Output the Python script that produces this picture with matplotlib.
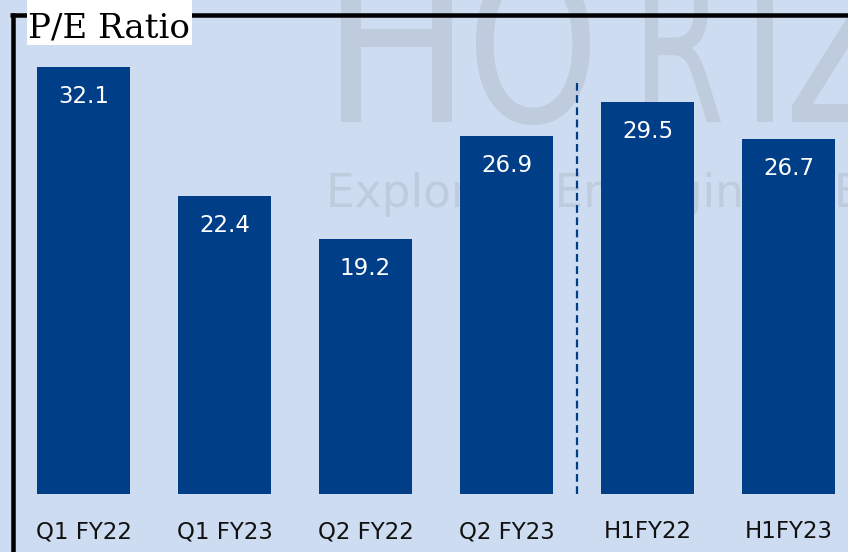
import numpy as np
import matplotlib
matplotlib.use("Agg")
import matplotlib.pyplot as plt
from matplotlib.lines import Line2D
from matplotlib.patches import Rectangle, PathPatch
from matplotlib.textpath import TextPath
from matplotlib.font_manager import FontProperties
from matplotlib.transforms import Affine2D, IdentityTransform

# data
categories = ["Q1 FY22", "Q1 FY23", "Q2 FY22", "Q2 FY23", "H1FY22", "H1FY23"]
pe_ratio = [32.1, 22.4, 19.2, 26.9, 29.5, 26.7]

bg = "#CDDCF0"
bar_col = "#003F88"
wm_col = "#BECCDD"

W, H = 848, 552
fig = plt.figure(figsize=(W / 100, H / 100), dpi=100, facecolor=bg)

# watermark "HORIZ..." - narrow light letters, each squeezed to the width seen
wm_letters = [("H", 396.5, 111), ("O", 533, 114), ("R", 683, 76), ("I", 764.5, 16), ("Z", 842, 100)]
wm_prop = FontProperties(family="DejaVu Sans")
cap_px = 158
for ch, cx, wd in wm_letters:
    tp = TextPath((0, 0), ch, size=cap_px / 0.729, prop=wm_prop)
    ext = tp.get_extents()
    sx = wd / (ext.x1 - ext.x0)
    tr = Affine2D().translate(-(ext.x0 + ext.x1) / 2, 0).scale(sx, 1).translate(cx, H - 122)
    fig.add_artist(PathPatch(tr.transform_path(tp), facecolor=wm_col, edgecolor="none",
                             transform=IdentityTransform(), zorder=-2))

fig.text(326 / W, 1 - 207 / H, "Exploring Emerging", fontsize=32.8, family="DejaVu Sans",
         color=wm_col, va="baseline", ha="left", zorder=-2)
fig.text(834 / W, 1 - 207 / H, "Engineering", fontsize=32.8, family="DejaVu Sans",
         color=wm_col, va="baseline", ha="left", zorder=-2)

# axes: baseline 58 px above bottom, bars 141 px apart, first centre at 83.5 px
base = 58
ax = fig.add_axes([0, base / H, 1, 1 - base / H])
ax.set_facecolor("none")
step = 141.0
ax.set_xlim(-83.5 / step, (W - 83.5) / step)
ax.set_ylim(0, (H - base) / 13.3)

x = np.arange(len(categories))
ax.bar(x, pe_ratio, width=0.665, color=bar_col, zorder=2)

for xi, v in zip(x, pe_ratio):
    ax.annotate(f"{v:.1f}", (xi, v), xytext=(0, -26), textcoords="offset points",
                ha="center", va="baseline", color="white", fontsize=16.5,
                family="DejaVu Sans", zorder=3)

ax.set_xticks(x)
ax.set_xticklabels(categories, fontsize=16.5, family="DejaVu Sans", color="#111111")
ax.tick_params(axis="x", length=0, pad=19)
ax.set_yticks([])
for s in ax.spines.values():
    s.set_visible(False)

# dashed separator between quarters and half-years
ax.axvline(3.5, ymin=0, ymax=(494 - 83) / (H - base), color=bar_col, lw=1.6,
           ls=(0, (3.5, 2)), zorder=2)

# black frame top and left
lw = 4.5 * 0.72
fig.add_artist(Line2D([10 / W, 1], [1 - 14.5 / H] * 2, transform=fig.transFigure,
                      color="black", lw=lw, solid_capstyle="butt", zorder=4))
fig.add_artist(Line2D([12.5 / W] * 2, [0, 1 - 12.5 / H], transform=fig.transFigure,
                      color="black", lw=lw, solid_capstyle="butt", zorder=4))

# title on white box
fig.add_artist(Rectangle((27 / W, 1 - 45 / H), 165 / W, 45 / H, transform=fig.transFigure,
                         facecolor="white", edgecolor="none", zorder=5))
fig.text(28 / W, 1 - 37 / H, "P/E Ratio", fontsize=24.5, family="DejaVu Serif",
         color="black", va="baseline", ha="left", zorder=6)

fig.savefig("out.png", dpi=100, facecolor=bg)
